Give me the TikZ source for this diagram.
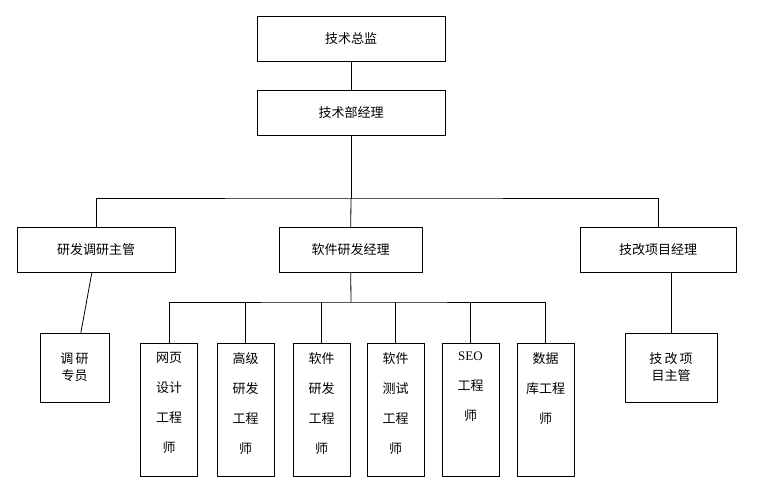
\documentclass[tikz,border=0pt]{standalone}
\usepackage{fontspec}
\setmainfont{Liberation Serif}
\newfontfamily\cjk{Noto Sans CJK SC}
\begin{document}
\begin{tikzpicture}[x=1pt, y=-1pt, font=\cjk\fontsize{13}{17}\selectfont,
  box/.style={draw=black, thick, inner sep=0pt},
  post/.style={box, minimum width=#1, minimum height=45pt},
  tall/.style={box, minimum width=57pt, minimum height=133pt},
  link/.style={draw=black, thick}]
\useasboundingbox (0,0) rectangle (757,491);
\node [post=188pt] (cto) at (351,38.5) {技术总监};
\node [post=188pt] (mgr) at (351,112.5) {技术部经理};
\node [post=158pt] (res) at (96,250) {研发调研主管};
\node [post=143pt] (dev) at (350.5,250) {软件研发经理};
\node [post=156pt] (imp) at (658,250) {技改项目经理};
\node [box, minimum width=69pt, minimum height=69pt, align=center] (resa) at (74.5,367.5) {调\,研\\专员};
\node [box, minimum width=92pt, minimum height=69pt, align=center] (impa) at (671,367.5) {技\,改\,项\\目主管};
\foreach \name/\x/\txt in {web/169/网页\\设计\\工程\\师, senior/245.5/高级\\研发\\工程\\师,
    soft/321.5/软件\\研发\\工程\\师, test/395.5/软件\\测试\\工程\\师,
    seo/470.5/{\fontspec{Liberation Serif}SEO}\\工程\\师, db/545.5/数据\\库工程\\师}
  \node [tall, align=center, text depth=0pt] (\name) at (\x,409.5) {};
\foreach \name/\txt in {web/网页\\设计\\工程\\师, senior/高级\\研发\\工程\\师,
    soft/软件\\研发\\工程\\师, test/软件\\测试\\工程\\师,
    seo/{\fontspec{Liberation Serif}SEO}\\工程\\师, db/数据\\库工程\\师}
  \node [anchor=north, align=center, font=\cjk\fontsize{13}{30}\selectfont] at ([yshift=-6pt]\name.north) {\txt};
% connectors
\draw [link] (cto) -- (mgr);
\coordinate (hub) at (351,198);
\draw [link] (mgr) -- (hub);
\draw [link] (res.north) |- (hub) -| (imp.north);
\draw [link] (hub) -- (dev);
\draw [link] (res) -- (resa);
\draw [link] (imp.south -| impa.north) -- (impa);
\coordinate (bus) at (351,302);
\draw [link] (dev) -- (bus);
\draw [link] (web.north) |- (bus) -| (db.north);
\foreach \name in {senior, soft, test, seo}
  \draw [link] (\name.north) -- (\name.north |- bus);
\end{tikzpicture}
\end{document}
